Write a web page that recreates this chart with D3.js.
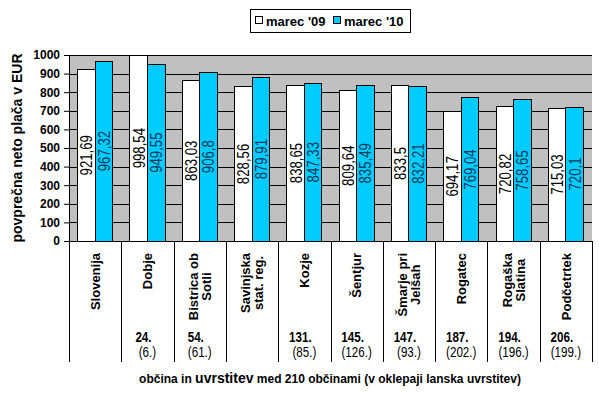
<!DOCTYPE html>
<html>
<head>
<meta charset="utf-8">
<script src="https://cdn.jsdelivr.net/npm/d3@7"></script>
<style>
  body { margin: 0; background: #fff; }
  text { font-family: Arial, "Liberation Sans", sans-serif; }
</style>
</head>
<body>
<script>
// data
var categories = [["Slovenija"], ["Dobje"], ["Bistrica ob", "Sotli"], ["Savinjska", "stat. reg."],
                  ["Kozje"], ["Šentjur"], ["Šmarje pri", "Jelšah"], ["Rogatec"], ["Rogaška", "Slatina"], ["Podčetrtek"]];
var ranks = [null, ["24.", "(6.)"], ["54.", "(61.)"], null, ["131.", "(85.)"], ["145.", "(126.)"],
             ["147.", "(93.)"], ["187.", "(202.)"], ["194.", "(196.)"], ["206.", "(199.)"]];
var marec09 = [921.69, 998.54, 863.03, 828.56, 838.65, 809.64, 833.5, 694.17, 720.82, 715.03];
var marec10 = [967.32, 949.55, 906.8, 879.91, 847.33, 835.49, 832.21, 769.04, 758.65, 720.1];
var seriesNames = ["marec '09", "marec '10"];
var seriesColors = ["#ffffff", "#00ccff"];
var labelColors = ["#000000", "#003a5a"];
var yTicks = [0, 100, 200, 300, 400, 500, 600, 700, 800, 900, 1000];

var W = 599, H = 395;
var pLeft = 69, pRight = 592, pTop = 55, pBottom = 241;
var narrow = 0.8; // horizontal squeeze to mimic a condensed face

var svg = d3.select("body").append("svg")
    .attr("width", W).attr("height", H);

var x = d3.scaleBand().domain(d3.range(categories.length)).range([pLeft, pRight]).paddingInner(0).paddingOuter(0);
var xs = d3.scaleBand().domain([0, 1]).range([8.6, x.bandwidth() - 8.6]).padding(0);
var y = d3.scaleLinear().domain([0, 1000]).range([pBottom, pTop]);

// plot background
svg.append("rect")
    .attr("x", pLeft).attr("y", pTop)
    .attr("width", pRight - pLeft).attr("height", pBottom - pTop)
    .attr("fill", "#c0c0c0");

// gridlines
svg.append("g")
    .attr("transform", "translate(" + pLeft + ",0)")
    .call(d3.axisLeft(y).tickValues(yTicks).tickSize(-(pRight - pLeft)).tickFormat(""))
    .call(function(g) { g.select(".domain").remove(); })
    .selectAll("line").attr("stroke", "#000").attr("shape-rendering", "crispEdges");

// bars
var series = [marec09, marec10];
series.forEach(function(vals, s) {
  var g = svg.append("g");
  g.selectAll("rect").data(vals).enter().append("rect")
      .attr("x", function(d, i) { return x(i) + xs(s); })
      .attr("y", function(d) { return y(d); })
      .attr("width", xs.bandwidth())
      .attr("height", function(d) { return y(0) - y(d); })
      .attr("fill", seriesColors[s])
      .attr("stroke", "#000").attr("stroke-width", 1)
      .attr("shape-rendering", "crispEdges");
  g.selectAll("text").data(vals).enter().append("text")
      .attr("transform", function(d, i) {
        var cx = x(i) + xs(s) + xs.bandwidth() / 2;
        var cy = (y(d) + y(0)) / 2;
        return "translate(" + cx + "," + cy + ") rotate(-90) scale(" + narrow + ",1)";
      })
      .attr("text-anchor", "middle")
      .attr("dy", "0.36em")
      .attr("font-size", 16.5)
      .attr("fill", labelColors[s])
      .text(function(d) { return d3.format(".2~f")(d).replace(".", ","); });
});

// y axis
var yAxis = svg.append("g")
    .attr("transform", "translate(" + pLeft + ",0)")
    .call(d3.axisLeft(y).tickValues(yTicks).tickSize(5).tickPadding(4).tickFormat(d3.format("d")));
yAxis.select(".domain").attr("d", "M0.5," + pTop + "V" + pBottom).attr("stroke", "#000");
yAxis.selectAll("line").attr("stroke", "#000");
yAxis.selectAll("text").attr("font-size", 12).attr("font-weight", "bold").attr("fill", "#000")
    .attr("font-family", "Arial, 'Liberation Sans', sans-serif");

// x axis line and category separators
svg.append("line")
    .attr("x1", pLeft).attr("x2", pRight).attr("y1", pBottom + 0.5).attr("y2", pBottom + 0.5)
    .attr("stroke", "#000");
svg.append("g").selectAll("line")
    .data(d3.range(categories.length + 1))
    .enter().append("line")
    .attr("x1", function(i) { return Math.round(pLeft + i * x.step()) + 0.5; })
    .attr("x2", function(i) { return Math.round(pLeft + i * x.step()) + 0.5; })
    .attr("y1", pBottom).attr("y2", 362)
    .attr("stroke", "#000");

// category names (rotated)
var cat = svg.append("g").selectAll("g")
    .data(categories).enter().append("g");
cat.each(function(lines, i) {
  var g = d3.select(this);
  var n = lines.length;
  var cx = x(i) + x.bandwidth() / 2;
  var texts = lines.map(function(t, k) {
    var off = (k - (n - 1) / 2) * 13;
    return g.append("text")
        .attr("text-anchor", "middle")
        .attr("font-size", 13).attr("font-weight", "bold")
        .attr("dy", "0.36em")
        .attr("data-x", cx + off)
        .text(t);
  });
  var maxLen = d3.max(texts, function(t) { return t.node().getComputedTextLength(); });
  var cy = 253 + maxLen / 2;
  texts.forEach(function(t) {
    t.attr("transform", "translate(" + t.attr("data-x") + "," + cy + ") rotate(-90)");
  });
});

// rank labels
var rk = svg.append("g").selectAll("g")
    .data(ranks).enter().append("g");
rk.each(function(r, i) {
  if (!r) return;
  var cx = x(i) + x.bandwidth() / 2;
  d3.select(this).append("text")
      .attr("transform", "translate(" + (cx - 4) + ",342) scale(" + narrow + ",1)")
      .attr("text-anchor", "middle")
      .attr("font-size", 14.5).attr("font-weight", "bold")
      .text(r[0]);
  d3.select(this).append("text")
      .attr("transform", "translate(" + cx + ",357) scale(" + narrow + ",1)")
      .attr("text-anchor", "middle")
      .attr("font-size", 14.5)
      .text(r[1]);
});

// axis titles
svg.append("text")
    .attr("transform", "translate(22," + ((pTop + pBottom) / 2) + ") rotate(-90)")
    .attr("text-anchor", "middle")
    .attr("font-size", 14).attr("font-weight", "bold")
    .text("povprečna neto plača v EUR");

var xt = svg.append("text")
    .attr("x", 330).attr("y", 383)
    .attr("text-anchor", "middle")
    .attr("font-size", 12).attr("font-weight", "bold");
xt.append("tspan").text("občina in ");
xt.append("tspan").attr("font-size", 14).text("uvrstitev");
xt.append("tspan").text(" med 210 občinami (v oklepaji lanska uvrstitev)");

// legend
var legend = svg.append("g");
legend.append("rect")
    .attr("x", 250.5).attr("y", 9.5).attr("width", 160).attr("height", 23)
    .attr("fill", "#fff").attr("stroke", "#000");
var legX = [255, 333];
seriesNames.forEach(function(name, s) {
  legend.append("rect")
      .attr("x", legX[s] + 0.5).attr("y", 16.5).attr("width", 7).attr("height", 7)
      .attr("fill", seriesColors[s]).attr("stroke", "#000");
  legend.append("text")
      .attr("x", legX[s] + 11).attr("y", 25.5)
      .attr("font-size", 13).attr("font-weight", "bold")
      .text(name);
});
</script>
</body>
</html>
